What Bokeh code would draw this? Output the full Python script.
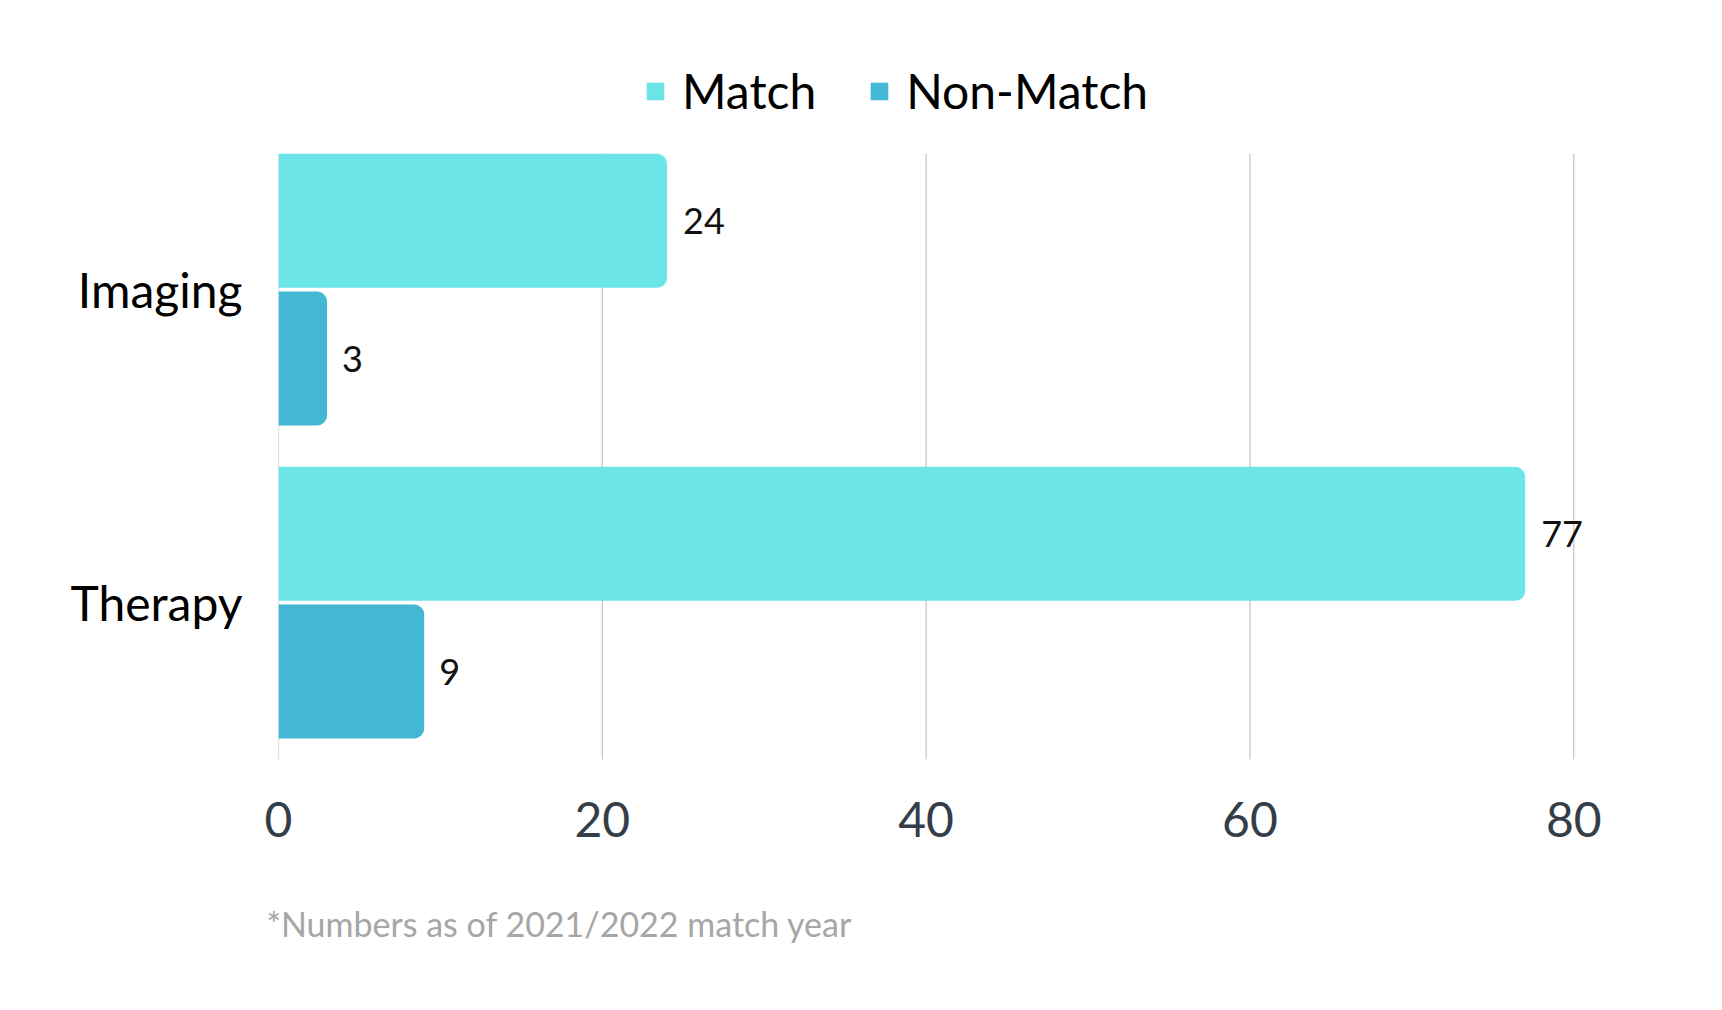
from bokeh.plotting import figure
from bokeh.models import (Range1d, FixedTicker, Legend, LegendItem, Title,
                          ColumnDataSource)
from bokeh.embed import file_html
from bokeh.resources import INLINE
from bokeh.core.properties import value
from bokeh.transform import dodge

# ---- data ----
categories = ["Imaging", "Therapy"]
series_names = ["Match", "Non-Match"]
match_values = [24, 77]
nonmatch_values = [3, 9]
x_ticks = [0, 20, 40, 60, 80]
footnote = "*Numbers as of 2021/2022 match year"

match_color = "#6BE5E8"
nonmatch_color = "#42B8D5"
FONT = "Lato"

n = len(categories)
cat_pos = [n - 1 - i for i in range(n)]  # first category on top

src = ColumnDataSource(dict(
    pos=cat_pos,
    match=match_values,
    nonmatch=nonmatch_values,
    match_txt=[str(v) for v in match_values],
    nonmatch_txt=[str(v) for v in nonmatch_values],
))

# plotting-area extents (in category units) for the visible grid
band_lo = min(cat_pos) - 0.501
band_hi = max(cat_pos) + 0.435

p = figure(width=1706, height=1008, output_backend="svg", toolbar_location=None,
           x_range=Range1d(0, 84), y_range=Range1d(band_lo, band_lo + 759 / 313),
           min_border_left=278, min_border_right=68, min_border_top=0,
           min_border_bottom=249)
p.outline_line_color = None
p.background_fill_color = "white"
p.border_fill_color = "white"
p.xgrid.grid_line_color = None
p.ygrid.grid_line_color = None

grid_src = ColumnDataSource(dict(x=x_ticks, y0=[band_lo] * len(x_ticks),
                                 y1=[band_hi] * len(x_ticks)))
p.segment(x0="x", x1="x", y0="y0", y1="y1", source=grid_src,
          line_color="#C8C8C8", line_width=1.3)

bar_h = 0.428
off = 0.22
r1 = p.hbar(y=dodge("pos", off), right="match", left=0, height=bar_h, source=src,
            fill_color=match_color, line_color=None, border_radius=(0, 10, 10, 0))
r2 = p.hbar(y=dodge("pos", -off), right="nonmatch", left=0, height=bar_h, source=src,
            fill_color=nonmatch_color, line_color=None, border_radius=(0, 10, 10, 0))

p.text(x="match", y=dodge("pos", off), text="match_txt", source=src, x_offset=16,
       text_font=value(FONT), text_font_size="36px", text_baseline="middle",
       text_align="left", text_color="#111111")
p.text(x="nonmatch", y=dodge("pos", -off), text="nonmatch_txt", source=src, x_offset=15,
       text_font=value(FONT), text_font_size="36px", text_baseline="middle",
       text_align="left", text_color="#111111")

# x axis
p.xaxis.ticker = FixedTicker(ticks=x_ticks)
p.xaxis.axis_line_color = None
p.xaxis.major_tick_line_color = None
p.xaxis.minor_tick_line_color = None
p.xaxis.major_label_text_font = FONT
p.xaxis.major_label_text_font_size = "48px"
p.xaxis.major_label_text_color = "#333E48"
p.xaxis.major_label_standoff = 36

# y axis (categories)
p.yaxis.ticker = FixedTicker(ticks=cat_pos)
p.yaxis.major_label_overrides = {pv: c for pv, c in zip(cat_pos, categories)}
p.yaxis.axis_line_color = None
p.yaxis.major_tick_line_color = None
p.yaxis.minor_tick_line_color = None
p.yaxis.major_label_text_font = FONT
p.yaxis.major_label_text_font_size = "48px"
p.yaxis.major_label_text_color = "#000000"
p.yaxis.major_label_standoff = 30

legend = Legend(items=[LegendItem(label=series_names[0], renderers=[r1]),
                       LegendItem(label=series_names[1], renderers=[r2])],
                orientation="horizontal", location=(366, 640),
                label_text_font=FONT, label_text_font_size="48px",
                label_text_color="#000000",
                glyph_width=22, glyph_height=22, label_standoff=16, spacing=52,
                padding=0, margin=0, border_line_color=None,
                background_fill_alpha=0)
p.add_layout(legend)

note = Title(text=footnote, align="left", offset=-12, text_font=FONT,
             text_font_size="34px", text_font_style="normal",
             text_color="#A6A6A6", standoff=123)
p.add_layout(note, "below")

open("out.html", "w").write(file_html(p, INLINE))
